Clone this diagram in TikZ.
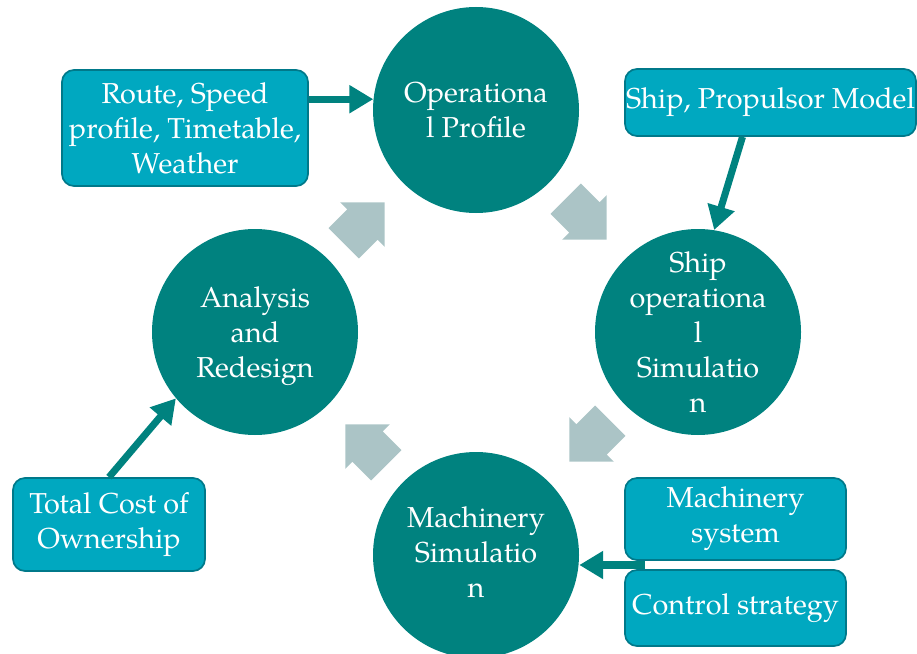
\documentclass[tikz,border=0pt]{standalone}
\usepackage{fontspec}
\setmainfont{TeX Gyre Pagella}
\usetikzlibrary{shapes.arrows,arrows.meta,calc}
\definecolor{stagecol}{HTML}{00827F}
\definecolor{boxcol}{HTML}{00A8C0}
\definecolor{boxline}{HTML}{00798A}
\definecolor{cyccol}{HTML}{ABC4C6}

\begin{document}
\begin{tikzpicture}[
stage/.style={
circle,
fill=stagecol,
minimum size=5.15cm,
inner sep=0pt,
},
stagetxt/.style={
text=white,
align=center,
inner sep=0pt,
font=\fontsize{20.5}{25}\selectfont,
},
src/.style={
rectangle,
rounded corners=3mm,
fill=boxcol,
draw=boxline,
line width=1.2pt,
text=white,
align=center,
inner sep=0pt,
font=\fontsize{20.5}{25}\selectfont,
},
feed/.style={
draw=stagecol,
line width=5pt,
-{Triangle[width=19pt,length=17pt]},
},
cyc/.style={
single arrow,
single arrow tip angle=90,
single arrow head extend=0.25cm,
minimum height=1.45cm,
inner xsep=0pt,
inner ysep=0.53cm,
fill=cyccol,
anchor=tip,
}
]

\useasboundingbox(0,0)rectangle(22.925,16.325);

%stages
\node[stage,label={[stagetxt]center:Operationa\\l Profile}](op)at(11.9,13.575){};
\node[stage,label={[stagetxt]center:Ship\\operationa\\l\\Simulatio\\n}](ship)at(17.45,8.025){};
\node[stage,label={[stagetxt,yshift=0.7mm]center:Machinery\\Simulatio\\n}](mach)at(11.9,2.45){};
\node[stage,label={[stagetxt,yshift=-1mm]center:Analysis\\and\\Redesign}](ana)at(6.375,8.025){};

%cycle arrows
\node[cyc,rotate=45](c1)at(9.625,11.275){};
\node[cyc,rotate=-45](c2)at(15.175,10.325){};
\node[cyc,rotate=-135](c3)at(14.225,4.775){};
\node[cyc,rotate=135](c4)at(8.625,5.725){};

%inputs
\node[src,minimum width=6.15cm,minimum height=2.9cm](route)at(4.625,13.125){Route, Speed\\profile, Timetable,\\Weather};
\node[src,minimum width=7.275cm,minimum height=1.675cm](prop)at(19.2625,13.7625){Ship, Propulsor Model};
\node[src,minimum width=5.525cm,minimum height=2.05cm](msys)at(18.3875,3.35){Machinery\\system};
\node[src,minimum width=5.525cm,minimum height=1.9cm](ctrl)at(18.3875,1.125){Control strategy};
\node[src,minimum width=4.8cm,minimum height=2.325cm](tco)at(2.725,3.2125){Total Cost of\\Ownership};

\draw[feed](route.east |- op.174)--(op.174);
\draw[feed]([xshift=-7mm]prop.south)--(ship.81);
\coordinate(gap)at($([xshift=5.25mm]msys.south west)!0.5!([xshift=5.25mm]ctrl.north west)$);
\draw[feed](gap)--(gap -| mach.east);
\draw[feed](tco.north)--(ana.220);

\end{tikzpicture}
\end{document}
